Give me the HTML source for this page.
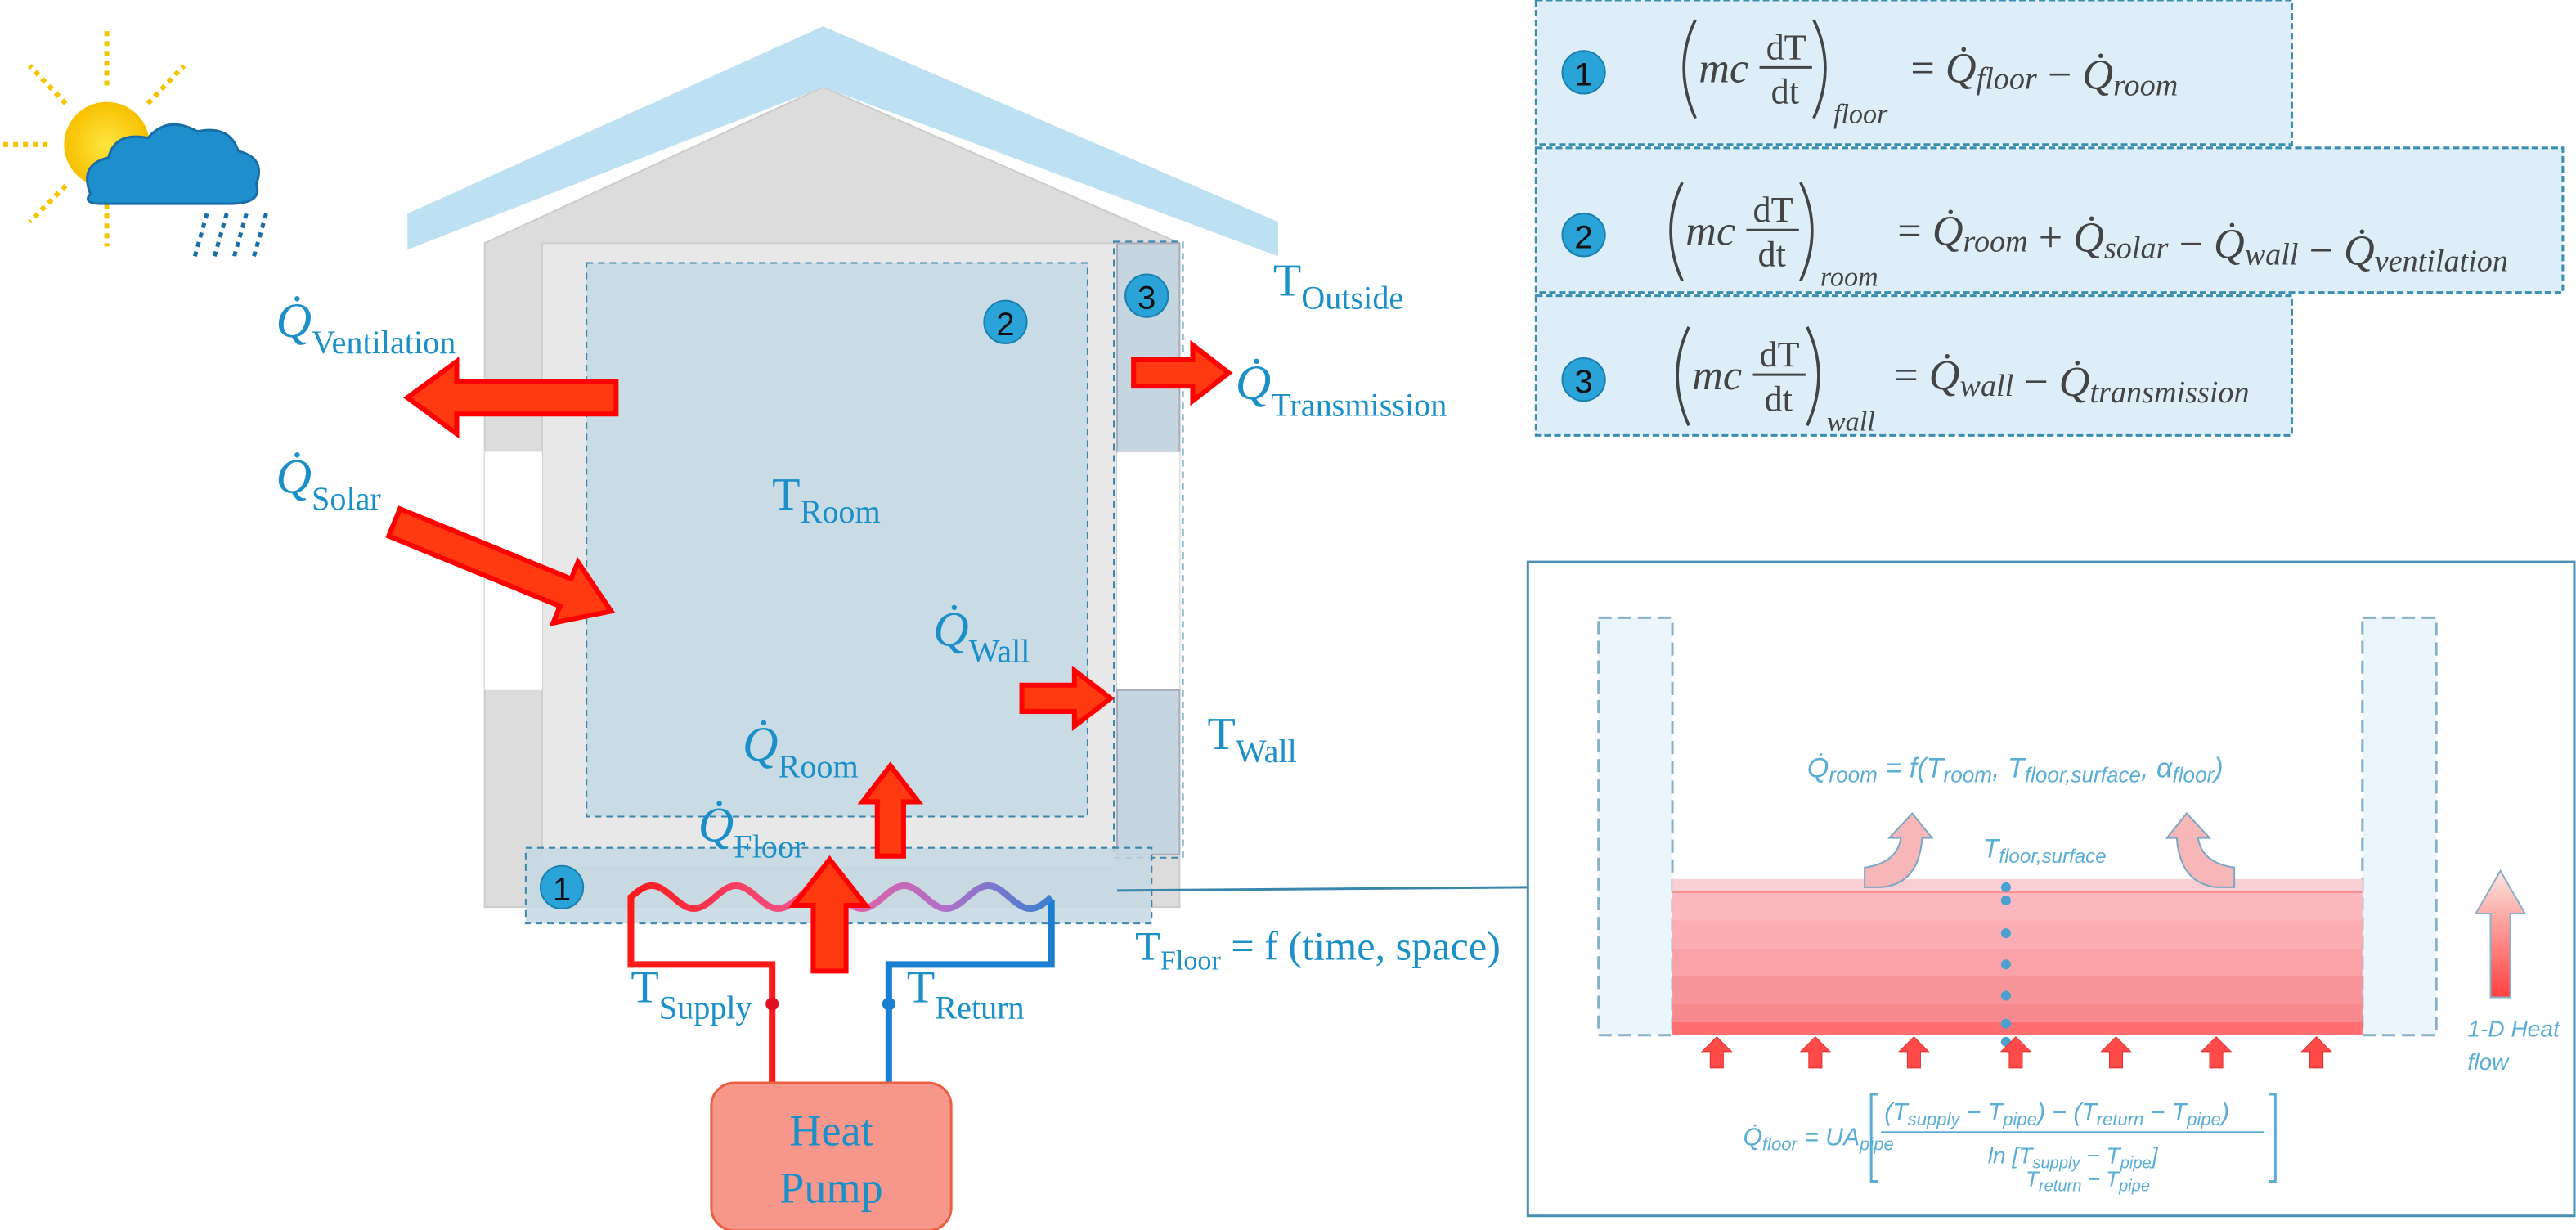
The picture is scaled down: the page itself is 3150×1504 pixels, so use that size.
<!DOCTYPE html>
<html><head><meta charset="utf-8"><style>
html,body{margin:0;padding:0;background:#fff;}
svg{display:block;}
.lbl{font-family:"Liberation Serif",serif;fill:#1a8fc8;}
.eq{font-family:"Liberation Serif",serif;fill:#444;font-style:italic;}
.eqr{font-family:"Liberation Serif",serif;fill:#444;}
.pl{font-family:"Liberation Sans",sans-serif;fill:#5aaed6;font-style:italic;}
</style></head><body>
<svg id="root" width="3150" height="1504" viewBox="0 0 1568 748.6" preserveAspectRatio="none">
<defs>
<linearGradient id="coilg" x1="0" x2="1" y1="0" y2="0"><stop offset="0" stop-color="#ff1a1a"/><stop offset="0.45" stop-color="#f05a9a"/><stop offset="0.75" stop-color="#b070c8"/><stop offset="1" stop-color="#3a80d0"/></linearGradient>
<linearGradient id="bigup" x1="0" x2="0" y1="1" y2="0"><stop offset="0" stop-color="#ff4040"/><stop offset="1" stop-color="#fbe6e0"/></linearGradient>
<radialGradient id="sung"><stop offset="0" stop-color="#ffe640"/><stop offset="1" stop-color="#f7c000"/></radialGradient>
</defs>

<g>
<g stroke="#f5c400" stroke-width="3" stroke-dasharray="3 3">
<line x1="65" y1="52" x2="65" y2="18"/><line x1="65" y1="124" x2="65" y2="150"/>
<line x1="29" y1="88" x2="0" y2="88"/><line x1="40" y1="63" x2="18" y2="40"/>
<line x1="40" y1="113" x2="18" y2="135"/><line x1="90" y1="63" x2="112" y2="40"/>
</g>
<circle cx="65" cy="88" r="26" fill="url(#sung)"/>
<g fill="#1e8fcc" stroke="#1a6ea8" stroke-width="1.5">
<path d="M55 118 Q48 100 66 96 Q70 80 90 84 Q102 70 120 80 Q140 76 145 92 Q162 96 156 112 Q160 124 140 124 L62 124 Q50 124 55 118Z"/>
</g>
<g stroke="#1a6ea8" stroke-width="2.5" stroke-dasharray="3 3">
<line x1="126" y1="130" x2="118" y2="158"/><line x1="138" y1="130" x2="130" y2="158"/><line x1="150" y1="130" x2="142" y2="158"/><line x1="162" y1="130" x2="154" y2="158"/>
</g>
</g>

<g>
<polygon points="295,148 501,53 718,148 718,552 295,552" fill="#dcdcdc" stroke="#ccc"/>
<rect x="330" y="148" width="350" height="380" fill="#e8e8e8" stroke="#cfcfcf"/>
<rect x="357" y="160" width="305" height="337" fill="#c9dce6" stroke="#3a86ac" stroke-dasharray="4 3"/>
<rect x="295" y="275" width="35" height="145" fill="#fff"/>
<rect x="680" y="148" width="38" height="127" fill="#c5d6e0" stroke="#aab"/>
<rect x="680" y="275" width="38" height="145" fill="#fff"/>
<rect x="680" y="420" width="38" height="100" fill="#c5d6e0" stroke="#aab"/>
<rect x="678" y="147" width="42" height="375" fill="none" stroke="#3a86ac" stroke-dasharray="4 3"/>
<rect x="320" y="516" width="381" height="46" fill="#c5d8e3" fill-opacity="0.85" stroke="#3a86ac" stroke-dasharray="4 3"/>
<polygon points="248,130 501,16 778,135 778,156 501,53 248,152" fill="#bde0f2"/>
</g>

<g fill="none" stroke-width="4">
<path d="M470 660 L470 587 L384 587 L384 548" stroke="#ff1a1a"/>
<path d="M541 660 L541 587 L640 587 L640 548" stroke="#1a7fd0"/>
<path id="coil" stroke="url(#coilg)" d=""/>
<circle cx="470" cy="611" r="4" fill="#e01020" stroke="none"/>
<circle cx="541" cy="611" r="4" fill="#1a7fd0" stroke="none"/>
</g>
<line x1="680" y1="542" x2="930" y2="540" stroke="#3a86ac" stroke-width="1.5"/>

<g id="arrows"></g>

<g>
<circle cx="342" cy="540" r="13" fill="#29a3d8" stroke="#1a80b0"/><text x="342" y="548" text-anchor="middle" font-family="Liberation Sans" font-size="20" fill="#111">1</text>
<circle cx="612" cy="196" r="13" fill="#29a3d8" stroke="#1a80b0"/><text x="612" y="204" text-anchor="middle" font-family="Liberation Sans" font-size="20" fill="#111">2</text>
<circle cx="698" cy="180" r="13" fill="#29a3d8" stroke="#1a80b0"/><text x="698" y="188" text-anchor="middle" font-family="Liberation Sans" font-size="20" fill="#111">3</text>
</g>

<g class="lbl">
<text x="168" y="205" font-size="30"><tspan font-style="italic">Q̇</tspan><tspan font-size="20" dy="10">Ventilation</tspan></text>
<text x="168" y="300" font-size="30"><tspan font-style="italic">Q̇</tspan><tspan font-size="20" dy="10">Solar</tspan></text>
<text x="775" y="180" font-size="28">T<tspan font-size="20" dy="8">Outside</tspan></text>
<text x="752" y="243" font-size="30"><tspan font-style="italic">Q̇</tspan><tspan font-size="20" dy="10">Transmission</tspan></text>
<text x="470" y="310" font-size="28">T<tspan font-size="20" dy="8">Room</tspan></text>
<text x="568" y="393" font-size="30"><tspan font-style="italic">Q̇</tspan><tspan font-size="20" dy="10">Wall</tspan></text>
<text x="735" y="456" font-size="28">T<tspan font-size="20" dy="8">Wall</tspan></text>
<text x="452" y="463" font-size="30"><tspan font-style="italic">Q̇</tspan><tspan font-size="20" dy="10">Room</tspan></text>
<text x="425" y="512" font-size="30"><tspan font-style="italic">Q̇</tspan><tspan font-size="20" dy="10">Floor</tspan></text>
<text x="691" y="584" font-size="25">T<tspan font-size="17" dy="6">Floor</tspan><tspan dy="-6"> = f (time, space)</tspan></text>
<text x="384" y="610" font-size="28">T<tspan font-size="20" dy="10">Supply</tspan></text>
<text x="552" y="610" font-size="28">T<tspan font-size="20" dy="10">Return</tspan></text>
</g>

<g>
<rect x="433" y="659" width="146" height="90" rx="14" fill="#f7978c" stroke="#e8603f" stroke-width="1.5"/>
<text x="506" y="697" text-anchor="middle" class="lbl" font-size="27">Heat</text>
<text x="506" y="732" text-anchor="middle" class="lbl" font-size="27">Pump</text>
</g>

<g>
<rect x="935" y="0" width="460" height="88" fill="#ddeef8" stroke="#3a8fb0" stroke-dasharray="4 2" stroke-width="1.5"/>
<rect x="935" y="90" width="625" height="88" fill="#ddeef8" stroke="#3a8fb0" stroke-dasharray="4 2" stroke-width="1.5"/>
<rect x="935" y="180" width="460" height="85" fill="#ddeef8" stroke="#3a8fb0" stroke-dasharray="4 2" stroke-width="1.5"/>
<g id="eqs"></g>
</g>

<g>
<rect x="930" y="342" width="637" height="398" fill="#fff" stroke="#4a90b0" stroke-width="1.5"/>
<rect x="973" y="376" width="45" height="254" fill="#eaf5fc" stroke="#8ab0c8" stroke-dasharray="8 4" stroke-width="1.5"/>
<rect x="1438" y="376" width="45" height="254" fill="#eaf5fc" stroke="#8ab0c8" stroke-dasharray="8 4" stroke-width="1.5"/>
<g id="slab"></g>
<g id="dots"></g>
<g id="smallarrows"></g>
<path d="M1135 540 L1135 528 Q1155 525 1157 510 L1150 510 L1164 495 L1176 510 L1170 510 Q1168 538 1145 540Z" fill="#f7b6b8" stroke="#7aa8c4"/>
<path d="M1360 540 L1360 528 Q1340 525 1338 510 L1345 510 L1331 495 L1319 510 L1325 510 Q1327 538 1350 540Z" fill="#f7b6b8" stroke="#7aa8c4"/>
<polygon points="1516,607 1516,556 1507,556 1522,530 1537,556 1528,556 1528,607" fill="url(#bigup)" stroke="#8ab0c8"/>
<text x="1502" y="631" class="pl" font-size="14">1-D Heat</text>
<text x="1502" y="651" class="pl" font-size="14">flow</text>
<text x="1100" y="473" class="pl" font-size="17">Q̇<tspan font-size="13" dy="3">room</tspan><tspan dy="-3"> = f(T</tspan><tspan font-size="13" dy="3">room</tspan><tspan dy="-3">, T</tspan><tspan font-size="13" dy="3">floor,surface</tspan><tspan dy="-3">, α</tspan><tspan font-size="13" dy="3">floor</tspan><tspan dy="-3">)</tspan></text>
<text x="1207" y="522" class="pl" font-size="16">T<tspan font-size="12" dy="3">floor,surface</tspan></text>
<g class="pl" font-size="15">
<text x="1061" y="697">Q̇<tspan font-size="11" dy="3">floor</tspan><tspan dy="-3"> = UA</tspan><tspan font-size="11" dy="3">pipe</tspan></text>
<path d="M1143 666 L1139 666 L1139 719 L1143 719" fill="none" stroke="#5aaed6" stroke-width="1.5" font-style="normal"/>
<path d="M1381 666 L1385 666 L1385 719 L1381 719" fill="none" stroke="#5aaed6" stroke-width="1.5"/>
<text x="1147" y="682" font-size="15">(T<tspan font-size="11" dy="3">supply</tspan><tspan dy="-3"> − T</tspan><tspan font-size="11" dy="3">pipe</tspan><tspan dy="-3">) − (T</tspan><tspan font-size="11" dy="3">return</tspan><tspan dy="-3"> − T</tspan><tspan font-size="11" dy="3">pipe</tspan><tspan dy="-3">)</tspan></text>
<line x1="1145" y1="689" x2="1378" y2="689" stroke="#5aaed6"/>
<text x="1210" y="708" font-size="14">ln [T<tspan font-size="10" dy="3">supply</tspan><tspan dy="-3"> − T</tspan><tspan font-size="10" dy="3">pipe</tspan><tspan dy="-3">]</tspan></text>
<text x="1233" y="722" font-size="13">T<tspan font-size="10" dy="3">return</tspan><tspan dy="-3"> − T</tspan><tspan font-size="10" dy="3">pipe</tspan></text>
</g>
</g>
</svg>
<script>
var NS="http://www.w3.org/2000/svg";
function mk(tag,attrs,parent){var e=document.createElementNS(NS,tag);for(var k in attrs)e.setAttribute(k,attrs[k]);parent.appendChild(e);return e;}
var d="M384 548";
for(var i=0;i<=256;i+=2){var x=384+i;var y=546-7*Math.sin(i/256*10*Math.PI);d+=" L"+x+" "+y.toFixed(1);}
document.getElementById('coil').setAttribute('d',d);

var arrowList=[
[375,242,248,242,10,22,30,'ventilation-arrow'],
[240,318,372,372,9,20,30,'solar-arrow'],
[690,227,748,227,8,17,22,'transmission-arrow'],
[622,425,676,425,8,17,22,'wall-arrow'],
[542,521,542,466,8,17,22,'room-arrow'],
[505,591,505,523,10,22,28,'floor-arrow']
];
var ag=document.getElementById('arrows');
arrowList.forEach(function(a){
  var dx=a[2]-a[0],dy=a[3]-a[1],L=Math.sqrt(dx*dx+dy*dy),ang=Math.atan2(dy,dx)*180/Math.PI;
  var b=a[4],h=a[5],hl=a[6];
  var pts=[[0,-b],[L-hl,-b],[L-hl,-h],[L,0],[L-hl,h],[L-hl,b],[0,b]].map(function(p){return p.join(',');}).join(' ');
  var p=mk('polygon',{points:pts,fill:'#ff3a10',stroke:'#ff0000','stroke-width':3,transform:'translate('+a[0]+','+a[1]+') rotate('+ang+')'},ag);
  
  
});

var eqNames=['floor','room','wall'];
var eqRhs=[
 [['Q̇','floor'],' − ',['Q̇','room']],
 [['Q̇','room'],' + ',['Q̇','solar'],' − ',['Q̇','wall'],' − ',['Q̇','ventilation']],
 [['Q̇','wall'],' − ',['Q̇','transmission']]
];
var eqY=[41,140,228];
var eqX=[0,-8,-4];
var eqEq=[1163,1155,1153];
var eg=document.getElementById('eqs');
eqNames.forEach(function(n,i){
  var y=eqY[i],o=eqX[i];
  mk('circle',{cx:964,cy:y+3,r:13,fill:'#29a3d8',stroke:'#1a80b0'},eg);
  var t=mk('text',{x:964,y:y+11,'text-anchor':'middle','font-family':'Liberation Sans','font-size':20,fill:'#111'},eg);t.textContent=String(i+1);
  mk('path',{d:'M'+(1032+o)+' '+(y-29)+' Q'+(1018+o)+' '+y+' '+(1032+o)+' '+(y+31),fill:'none',stroke:'#444','stroke-width':1.8},eg);
  var m=mk('text',{x:1034+o,y:y+9,'font-size':26,'class':'eq'},eg);m.textContent='mc';
  var n1=mk('text',{x:1075+o,y:y-5,'font-size':22,'class':'eqr'},eg);n1.textContent='dT';
  mk('line',{x1:1071+o,y1:y,x2:1103+o,y2:y,stroke:'#444','stroke-width':1.5},eg);
  var n2=mk('text',{x:1078+o,y:y+22,'font-size':22,'class':'eqr'},eg);n2.textContent='dt';
  mk('path',{d:'M'+(1104+o)+' '+(y-29)+' Q'+(1118+o)+' '+y+' '+(1104+o)+' '+(y+31),fill:'none',stroke:'#444','stroke-width':1.8},eg);
  var sub=mk('text',{x:1116+o,y:y+34,'font-size':17,'class':'eq'},eg);sub.textContent=n;
  var rhs=mk('text',{x:eqEq[i],y:y+9,'font-size':26,'class':'eq'},eg);
  var s=mk('tspan',{'font-style':'normal'},rhs);s.textContent='= ';
  eqRhs[i].forEach(function(part){
    if(typeof part==='string'){var tt=mk('tspan',{'font-style':'normal'},rhs);tt.textContent=part;}
    else{var q=mk('tspan',{},rhs);q.textContent=part[0];var sb=mk('tspan',{'font-size':19,dy:4},rhs);sb.textContent=part[1];var rs=mk('tspan',{dy:-4},rhs);rs.textContent='';}
  });
  
  
});

var slabLayers=[[535,8,'#f9cfd3'],[543,17,'#fcb8be'],[560,17,'#fbadb3'],[577,17,'#faa2a8'],[594,17,'#f8959a'],[611,11,'#f78a8e'],[622,8,'#ff6e70']];
var sg=document.getElementById('slab');
slabLayers.forEach(function(l){mk('rect',{x:1018,y:l[0],width:420,height:l[1],fill:l[2]},sg);});
mk('line',{x1:1018,y1:543,x2:1438,y2:543,stroke:'#f49090'},sg);
var dg=document.getElementById('dots');
[540,548,568,587,606,623,634].forEach(function(y){mk('circle',{cx:1221,cy:y,r:3,fill:'#4aa0d0'},dg);});
var smg=document.getElementById('smallarrows');
[1045,1105,1165,1227,1288,1349,1410].forEach(function(x){
  var p=mk('polygon',{points:(x-4)+',650 '+(x-4)+',640 '+(x-9)+',640 '+x+',631 '+(x+9)+',640 '+(x+4)+',640 '+(x+4)+',650',fill:'#ff4a4a',stroke:'#e03030','stroke-width':0.5},smg);
  
  
});
</script>
</body></html>
